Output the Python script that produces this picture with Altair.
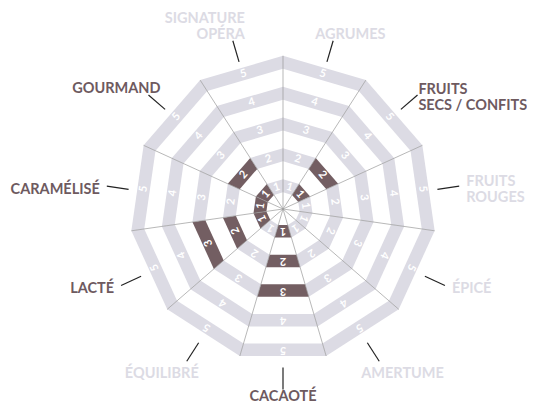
import math
import altair as alt
import pandas as pd

# ---------------- data ----------------
CATEGORIES = ["AGRUMES", "FRUITS\nSECS / CONFITS", "FRUITS\nROUGES", "ÉPICÉ", "AMERTUME",
              "CACAOTÉ", "ÉQUILIBRÉ", "LACTÉ", "CARAMÉLISÉ", "GOURMAND", "SIGNATURE\nOPÉRA"]
VALUES = [0, 2, 0, 0, 0, 3, 0, 3, 1, 2, 0]
LEVELS = [1, 2, 3, 4, 5]

# ---------------- layout / style ----------------
W, H = 519, 394
CX, CY = 275, 201          # centre of the wheel inside the plot area
N = len(CATEGORIES)
STEP = 360 / N
HALF = math.radians(STEP / 2)
RING_STEP, RING_OFFSET, BAND = 29.6, -1.0, 12.5
TICK_R0, TICK_R1, TICK_DY = 156, 178, 2.5
FONT_SIZE = 14.5
CHAR_W = 0.53 * FONT_SIZE   # rough average glyph width, used to keep labels inside
LINE_H, CAP_H = 16, 10
LABEL_MODE = ["end", "side", "side", "side", "end", "end", "end", "side", "side", "end", "end"]

OFF_BAND, ON_BAND = "#dcdbe4", "#735e62"
ON_LABEL, OFF_LABEL = "#6e5a5f", "#dcdbe4"
FONT = "Lato"

def apothems(k):
    outer = RING_STEP * k + RING_OFFSET
    return outer - BAND, outer

def pt(r, deg):
    a = math.radians(deg)
    return r * math.sin(a), -r * math.cos(a)

band_rows, num_rows, tick_rows, label_rows, spoke_rows = [], [], [], [], []
for i, (cat, val) in enumerate(zip(CATEGORIES, VALUES)):
    theta = (i + 0.5) * STEP
    p0, p1 = i * STEP, (i + 1) * STEP
    for k in LEVELS:
        ai, ao = apothems(k)
        ri, ro = ai / math.cos(HALF), ao / math.cos(HALF)
        state = "on" if k <= val else "off"
        for vi, (r, ph) in enumerate([(ro, p0), (ro, p1), (ri, p1), (ri, p0)]):
            x, y = pt(r, ph)
            band_rows.append({"seg": f"{i}-{k}", "vi": vi, "x": x, "y": y, "state": state})
        xm, ym = pt((ai + ao) / 2, theta)
        num_rows.append({"x": xm, "y": ym, "txt": str(k), "ang": theta})
    # tick
    x0, y0 = pt(TICK_R0, theta)
    x1, y1 = pt(TICK_R1, theta)
    tick_rows.append({"x": x0, "y": y0 + TICK_DY, "x2": x1, "y2": y1 + TICK_DY})
    # label
    ex, ey = x1, y1 + TICK_DY
    s, c = math.sin(math.radians(theta)), math.cos(math.radians(theta))
    lines = cat.split("\n")
    nl = len(lines)
    est_w = max(len(l) for l in lines) * CHAR_W
    if LABEL_MODE[i] == "side":
        if s > 0:
            align = "left"
            lx = min(ex + 7, (W - CX) - est_w - 1)
        else:
            align = "right"
            lx = max(ex - 7, -CX + est_w + 1)
        yc = ey + 2.5
        ly = yc - (nl - 1) * LINE_H / 2 + CAP_H / 2
    else:
        if s > 0.15:
            align, lx = "left", ex - 18
        elif s < -0.15:
            align, lx = "right", ex + 12
        else:
            align, lx = "center", ex
        if c > 0:
            ly = ey - 2 - (nl - 1) * LINE_H
        else:
            ly = min(ey + 16.5, H - CY - 1.5)   # keep inside the drawing area
    label_rows.append({"x": lx, "y": ly, "label": cat, "align": align,
                       "state": "on" if val > 0 else "off"})

_, outer5 = apothems(LEVELS[-1])
for j in range(N):
    x, y = pt(outer5 / math.cos(HALF), j * STEP)
    spoke_rows.append({"x": 0.0, "y": 0.0, "x2": x, "y2": y})

bands = pd.DataFrame(band_rows)
nums = pd.DataFrame(num_rows)
ticks = pd.DataFrame(tick_rows)
labels = pd.DataFrame(label_rows)
spokes = pd.DataFrame(spoke_rows)

xs = alt.Scale(domain=[-CX, W - CX], nice=False, zero=False)
ys = alt.Scale(domain=[-CY, H - CY], nice=False, zero=False, reverse=True)
X = lambda f="x": alt.X(f"{f}:Q", scale=xs, axis=None)
Y = lambda f="y": alt.Y(f"{f}:Q", scale=ys, axis=None)

band_layer = alt.Chart(bands).mark_line(interpolate="linear-closed", strokeWidth=0, strokeOpacity=0).encode(
    x=X(), y=Y(), detail="seg:N", order="vi:Q",
    fill=alt.Fill("state:N", scale=alt.Scale(domain=["off", "on"], range=[OFF_BAND, ON_BAND]), legend=None),
)

spoke_layer = alt.Chart(spokes).mark_rule(color="#9a9a9a", strokeWidth=0.7).encode(
    x=X(), y=Y(), x2="x2:Q", y2="y2:Q")

num_layer = alt.Chart(nums).mark_text(font=FONT, fontWeight="bold", fontSize=11, color="white",
                                      baseline="middle", align="center").encode(
    x=X(), y=Y(), text="txt:N", angle=alt.Angle("ang:Q", scale=None))

tick_layer = alt.Chart(ticks).mark_rule(color="#222222", strokeWidth=1.2).encode(
    x=X(), y=Y(), x2="x2:Q", y2="y2:Q")

label_color = alt.Color("state:N", scale=alt.Scale(domain=["on", "off"], range=[ON_LABEL, OFF_LABEL]), legend=None)
label_layers = []
for al in ["left", "right", "center"]:
    label_layers.append(
        alt.Chart(labels).transform_filter(alt.datum.align == al).mark_text(
            align=al, baseline="alphabetic", font=FONT, fontWeight="bold", fontSize=FONT_SIZE,
            lineBreak="\n", lineHeight=LINE_H).encode(x=X(), y=Y(), text="label:N", color=label_color)
    )

chart = alt.layer(band_layer, spoke_layer, num_layer, tick_layer, *label_layers).properties(
    width=W, height=H, padding=0, autosize=alt.AutoSizeParams(type="none")
).configure_view(stroke=None).resolve_scale(color="independent")

chart.save("out.html", embed_options={"renderer": "svg", "actions": False})
